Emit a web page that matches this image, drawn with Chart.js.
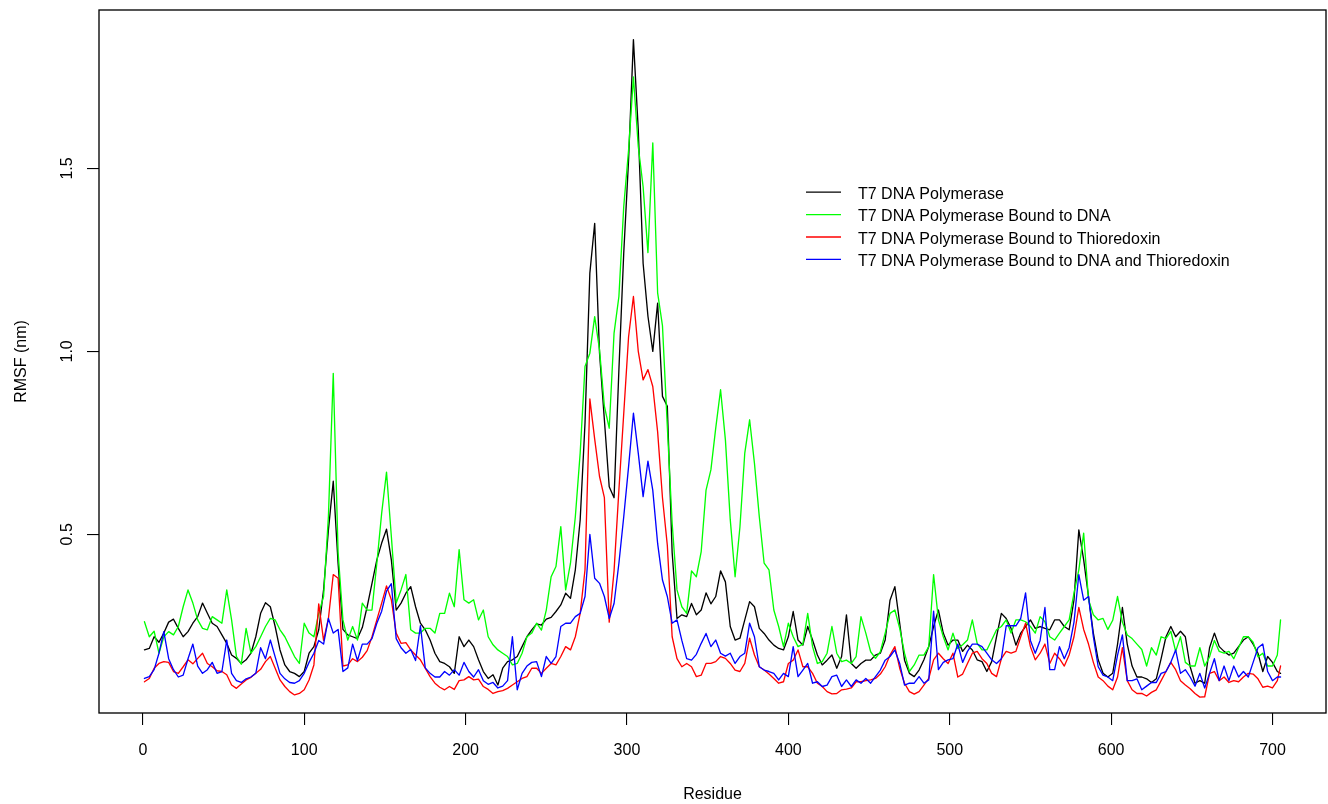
<!DOCTYPE html>
<html>
<head>
<meta charset="utf-8">
<script src="https://cdn.jsdelivr.net/npm/chart.js@4/dist/chart.umd.min.js"></script>
<style>
  html, body { margin: 0; padding: 0; background: #ffffff; }
  canvas { display: block; }
</style>
</head>
<body>
<canvas id="c" width="1328" height="804"></canvas>
<script>
// ---------- data ----------
const residueFirst = 1, residueStep = 3, residueLastGrid = 703, residueEnd = 705;
const residues = [];
for (let r = residueFirst; r <= residueLastGrid; r += residueStep) residues.push(r);
residues.push(residueEnd);

const seriesLabels = [
  "T7 DNA Polymerase",
  "T7 DNA Polymerase Bound to DNA",
  "T7 DNA Polymerase Bound to Thioredoxin",
  "T7 DNA Polymerase Bound to DNA and Thioredoxin"
];
const seriesColors = ["#000000", "#00FF00", "#FF0000", "#0000FF"];
const xTickValues = [0, 100, 200, 300, 400, 500, 600, 700];
const yTickValues = [0.5, 1.0, 1.5];

const rmsfPolymerase = [
  0.184,0.188,0.22,0.205,0.23,0.26,0.268,0.243,0.22,0.234,
  0.257,0.275,0.312,0.284,0.257,0.248,0.225,0.202,0.17,0.161,
  0.147,0.157,0.175,0.22,0.284,0.313,0.302,0.248,0.184,0.143,
  0.125,0.12,0.111,0.125,0.175,0.193,0.239,0.348,0.512,0.645,
  0.42,0.24,0.225,0.22,0.215,0.245,0.302,0.366,0.43,0.476,
  0.514,0.43,0.293,0.312,0.339,0.357,0.302,0.257,0.239,0.211,
  0.175,0.152,0.147,0.138,0.12,0.22,0.193,0.211,0.193,0.157,
  0.125,0.106,0.116,0.088,0.134,0.152,0.157,0.166,0.193,0.22,
  0.239,0.255,0.252,0.268,0.273,0.289,0.307,0.339,0.325,0.403,
  0.539,0.804,1.214,1.35,0.995,0.813,0.63,0.6,0.95,1.269,
  1.524,1.852,1.606,1.241,1.096,1.0,1.132,0.877,0.85,0.45,
  0.27,0.28,0.275,0.311,0.28,0.293,0.34,0.31,0.33,0.40,
  0.37,0.248,0.211,0.216,0.266,0.316,0.302,0.243,0.229,0.211,
  0.197,0.188,0.184,0.22,0.289,0.211,0.197,0.248,0.211,0.17,
  0.143,0.156,0.17,0.134,0.166,0.28,0.147,0.134,0.147,0.156,
  0.156,0.17,0.175,0.211,0.32,0.357,0.257,0.156,0.12,0.111,
  0.129,0.157,0.193,0.248,0.293,0.23,0.197,0.211,0.211,0.18,
  0.197,0.184,0.157,0.152,0.125,0.152,0.22,0.284,0.27,0.243,
  0.197,0.23,0.248,0.266,0.243,0.248,0.243,0.239,0.266,0.266,
  0.248,0.239,0.321,0.512,0.43,0.33,0.23,0.157,0.12,0.11,
  0.12,0.2,0.3,0.2,0.14,0.11,0.11,0.105,0.095,0.105,
  0.16,0.22,0.248,0.22,0.235,0.22,0.138,0.093,0.1,0.093,
  0.19,0.23,0.193,0.18,0.17,0.175,0.193,0.211,0.22,0.2,
  0.175,0.125,0.166,0.15,0.125,0.12
];

const rmsfBoundDNA = [
  0.261,0.22,0.235,0.175,0.22,0.234,0.225,0.248,0.302,0.348,
  0.312,0.266,0.243,0.239,0.275,0.266,0.257,0.348,0.266,0.166,
  0.145,0.243,0.175,0.193,0.22,0.248,0.27,0.266,0.239,0.22,
  0.193,0.166,0.147,0.257,0.23,0.22,0.284,0.33,0.549,0.94,
  0.45,0.266,0.211,0.248,0.211,0.312,0.293,0.293,0.421,0.558,
  0.67,0.494,0.312,0.348,0.39,0.239,0.23,0.23,0.243,0.243,
  0.23,0.284,0.284,0.339,0.302,0.458,0.321,0.312,0.321,0.266,
  0.293,0.22,0.198,0.184,0.175,0.166,0.143,0.147,0.175,0.22,
  0.23,0.257,0.238,0.293,0.384,0.412,0.521,0.348,0.421,0.548,
  0.722,0.959,0.995,1.095,1.004,0.85,0.79,1.05,1.15,1.396,
  1.55,1.75,1.56,1.45,1.27,1.57,1.16,1.07,0.795,0.53,
  0.348,0.302,0.284,0.40,0.384,0.453,0.621,0.676,0.79,0.895,
  0.758,0.54,0.384,0.52,0.722,0.813,0.694,0.548,0.421,0.403,
  0.293,0.248,0.193,0.257,0.22,0.193,0.2,0.284,0.193,0.147,
  0.152,0.175,0.248,0.175,0.152,0.156,0.147,0.166,0.275,0.23,
  0.179,0.161,0.179,0.23,0.284,0.293,0.243,0.175,0.125,0.143,
  0.17,0.17,0.193,0.39,0.266,0.22,0.184,0.23,0.188,0.198,
  0.211,0.266,0.202,0.184,0.184,0.211,0.239,0.248,0.266,0.23,
  0.266,0.266,0.261,0.248,0.23,0.275,0.261,0.22,0.211,0.23,
  0.248,0.266,0.339,0.403,0.503,0.321,0.28,0.266,0.27,0.24,
  0.265,0.33,0.26,0.225,0.215,0.2,0.185,0.14,0.19,0.17,
  0.22,0.215,0.235,0.18,0.22,0.15,0.14,0.14,0.19,0.14,
  0.165,0.21,0.18,0.175,0.18,0.16,0.19,0.22,0.22,0.205,
  0.165,0.175,0.14,0.14,0.17,0.266
];

const rmsfBoundTrx = [
  0.097,0.106,0.134,0.147,0.152,0.15,0.125,0.12,0.138,0.157,
  0.146,0.161,0.175,0.147,0.138,0.127,0.125,0.116,0.088,0.079,
  0.091,0.102,0.109,0.12,0.131,0.152,0.166,0.134,0.102,0.084,
  0.07,0.061,0.065,0.075,0.102,0.143,0.31,0.21,0.27,0.39,
  0.38,0.14,0.143,0.16,0.152,0.164,0.182,0.22,0.266,0.312,
  0.359,0.321,0.23,0.202,0.204,0.184,0.17,0.157,0.134,0.111,
  0.093,0.082,0.075,0.084,0.076,0.1,0.102,0.111,0.102,0.104,
  0.084,0.076,0.065,0.07,0.073,0.079,0.088,0.097,0.106,0.111,
  0.134,0.134,0.12,0.134,0.147,0.143,0.166,0.193,0.184,0.22,
  0.284,0.403,0.87,0.76,0.658,0.6,0.26,0.4,0.621,0.83,
  1.04,1.15,1.0,0.922,0.95,0.904,0.78,0.6,0.47,0.22,
  0.16,0.138,0.147,0.138,0.111,0.115,0.147,0.147,0.152,0.166,
  0.161,0.147,0.129,0.125,0.147,0.216,0.17,0.138,0.129,0.118,
  0.106,0.093,0.097,0.147,0.156,0.184,0.138,0.138,0.12,0.093,
  0.084,0.07,0.064,0.065,0.075,0.077,0.08,0.097,0.097,0.1,
  0.102,0.106,0.118,0.138,0.17,0.193,0.134,0.093,0.07,0.063,
  0.07,0.088,0.106,0.157,0.175,0.16,0.147,0.175,0.11,0.118,
  0.147,0.175,0.18,0.16,0.147,0.12,0.111,0.16,0.18,0.175,
  0.18,0.22,0.257,0.193,0.157,0.175,0.2,0.147,0.175,0.16,
  0.14,0.17,0.22,0.3,0.24,0.2,0.15,0.11,0.1,0.085,
  0.075,0.11,0.19,0.1,0.075,0.065,0.065,0.058,0.068,0.075,
  0.1,0.125,0.15,0.13,0.1,0.088,0.078,0.065,0.055,0.056,
  0.12,0.125,0.1,0.11,0.095,0.1,0.097,0.11,0.12,0.118,
  0.105,0.082,0.085,0.08,0.1,0.14
];

const rmsfBoundDNATrx = [
  0.106,0.111,0.13,0.175,0.234,0.16,0.13,0.11,0.115,0.16,
  0.2,0.14,0.12,0.13,0.15,0.12,0.125,0.211,0.12,0.1,
  0.095,0.105,0.11,0.12,0.19,0.16,0.211,0.165,0.12,0.105,
  0.095,0.093,0.1,0.12,0.15,0.175,0.21,0.2,0.27,0.23,
  0.24,0.125,0.135,0.2,0.155,0.2,0.2,0.215,0.257,0.29,
  0.345,0.365,0.215,0.19,0.175,0.185,0.155,0.25,0.135,0.12,
  0.11,0.11,0.125,0.115,0.13,0.115,0.15,0.125,0.11,0.13,
  0.1,0.09,0.095,0.08,0.085,0.1,0.22,0.075,0.12,0.14,
  0.15,0.152,0.111,0.166,0.147,0.166,0.248,0.257,0.257,0.275,
  0.284,0.33,0.5,0.38,0.366,0.33,0.27,0.311,0.421,0.548,
  0.685,0.831,0.722,0.603,0.70,0.62,0.475,0.375,0.33,0.257,
  0.266,0.21,0.16,0.156,0.172,0.202,0.229,0.193,0.211,0.175,
  0.167,0.175,0.147,0.166,0.175,0.257,0.22,0.138,0.129,0.125,
  0.12,0.102,0.12,0.111,0.193,0.111,0.129,0.147,0.093,0.097,
  0.084,0.088,0.111,0.115,0.084,0.102,0.084,0.102,0.093,0.106,
  0.093,0.111,0.129,0.156,0.166,0.184,0.147,0.088,0.093,0.093,
  0.111,0.093,0.102,0.29,0.13,0.15,0.157,0.16,0.2,0.15,
  0.18,0.2,0.2,0.193,0.175,0.157,0.147,0.16,0.25,0.25,
  0.25,0.27,0.34,0.21,0.175,0.21,0.3,0.13,0.13,0.193,
  0.16,0.19,0.26,0.39,0.32,0.33,0.22,0.138,0.115,0.11,
  0.1,0.17,0.225,0.1,0.1,0.105,0.075,0.085,0.095,0.095,
  0.12,0.125,0.15,0.184,0.12,0.13,0.11,0.085,0.12,0.08,
  0.12,0.16,0.1,0.14,0.1,0.14,0.11,0.125,0.11,0.15,
  0.19,0.2,0.125,0.1,0.11,0.11
];

const seriesValues = [rmsfPolymerase, rmsfBoundDNA, rmsfBoundTrx, rmsfBoundDNATrx];

// ---------- chart ----------
const FONT_FAMILY = '"Liberation Sans", Arial, Helvetica, sans-serif';
Chart.defaults.font.family = FONT_FAMILY;
Chart.defaults.font.size = 16;
Chart.defaults.color = '#000000';

const datasets = seriesValues.map((vals, i) => ({
  label: seriesLabels[i],
  data: residues.map((r, k) => ({ x: r, y: vals[k] })),
  borderColor: seriesColors[i],
  backgroundColor: seriesColors[i],
  borderWidth: 1.33,
  pointRadius: 0,
  tension: 0,
  fill: false,
  borderJoinStyle: 'round',
  borderCapStyle: 'round',
  order: seriesValues.length - i
}));

const frameAndLegend = {
  id: 'frameAndLegend',
  afterDraw(chart) {
    const { ctx, chartArea: a } = chart;
    ctx.save();
    ctx.strokeStyle = '#000000';
    ctx.lineWidth = 1.33;
    ctx.strokeRect(a.left, a.top, a.right - a.left, a.bottom - a.top);

    ctx.font = '16px ' + FONT_FAMILY;
    ctx.textAlign = 'left';
    ctx.textBaseline = 'alphabetic';
    const baseY = 198.7, rowH = 22.4;
    seriesLabels.forEach((lab, i) => {
      const yb = baseY + i * rowH;
      ctx.strokeStyle = seriesColors[i];
      ctx.lineWidth = 1.33;
      ctx.beginPath();
      ctx.moveTo(806, yb - 6.5);
      ctx.lineTo(841, yb - 6.5);
      ctx.stroke();
      ctx.fillStyle = '#000000';
      ctx.fillText(lab, 858, yb);
    });
    ctx.restore();
  }
};

new Chart(document.getElementById('c'), {
  type: 'line',
  data: { datasets },
  options: {
    responsive: false,
    devicePixelRatio: 1,
    animation: false,
    events: [],
    layout: { padding: { top: 10, right: 2, left: 0, bottom: 0 } },
    plugins: { legend: { display: false }, tooltip: { enabled: false } },
    scales: {
      x: {
        type: 'linear',
        min: -27.16,
        max: 733.16,
        afterBuildTicks: (s) => { s.ticks = xTickValues.map(v => ({ value: v })); },
        afterFit: (s) => { s.height = 91; s.paddingLeft = 0; s.paddingRight = 0; },
        grid: { display: true, drawOnChartArea: false, drawTicks: true, tickLength: 12, color: '#000000', lineWidth: 1.1 },
        border: { display: false },
        ticks: { autoSkip: false, maxRotation: 0, minRotation: 0, padding: 16, color: '#000000',
                 font: { size: 16 }, callback: (v) => String(v) },
        title: { display: true, text: 'Residue', color: '#000000', font: { size: 16 }, padding: { top: 0, bottom: 0 } }
      },
      y: {
        type: 'linear',
        min: 0.0116,
        max: 1.933,
        afterBuildTicks: (s) => { s.ticks = yTickValues.map(v => ({ value: v })); },
        afterFit: (s) => { s.width = 99; s.paddingTop = 0; s.paddingBottom = 0; },
        grid: { display: true, drawOnChartArea: false, drawTicks: true, tickLength: 12, color: '#000000', lineWidth: 1.1 },
        border: { display: false },
        ticks: { minRotation: 90, maxRotation: 90, crossAlign: 'center', padding: 8, color: '#000000',
                 font: { size: 16 }, callback: (v) => Number(v).toFixed(1) },
        title: { display: true, text: 'RMSF (nm)', color: '#000000', font: { size: 16 }, padding: { top: 12, bottom: 0 } }
      }
    }
  },
  plugins: [frameAndLegend]
});
</script>
</body>
</html>
